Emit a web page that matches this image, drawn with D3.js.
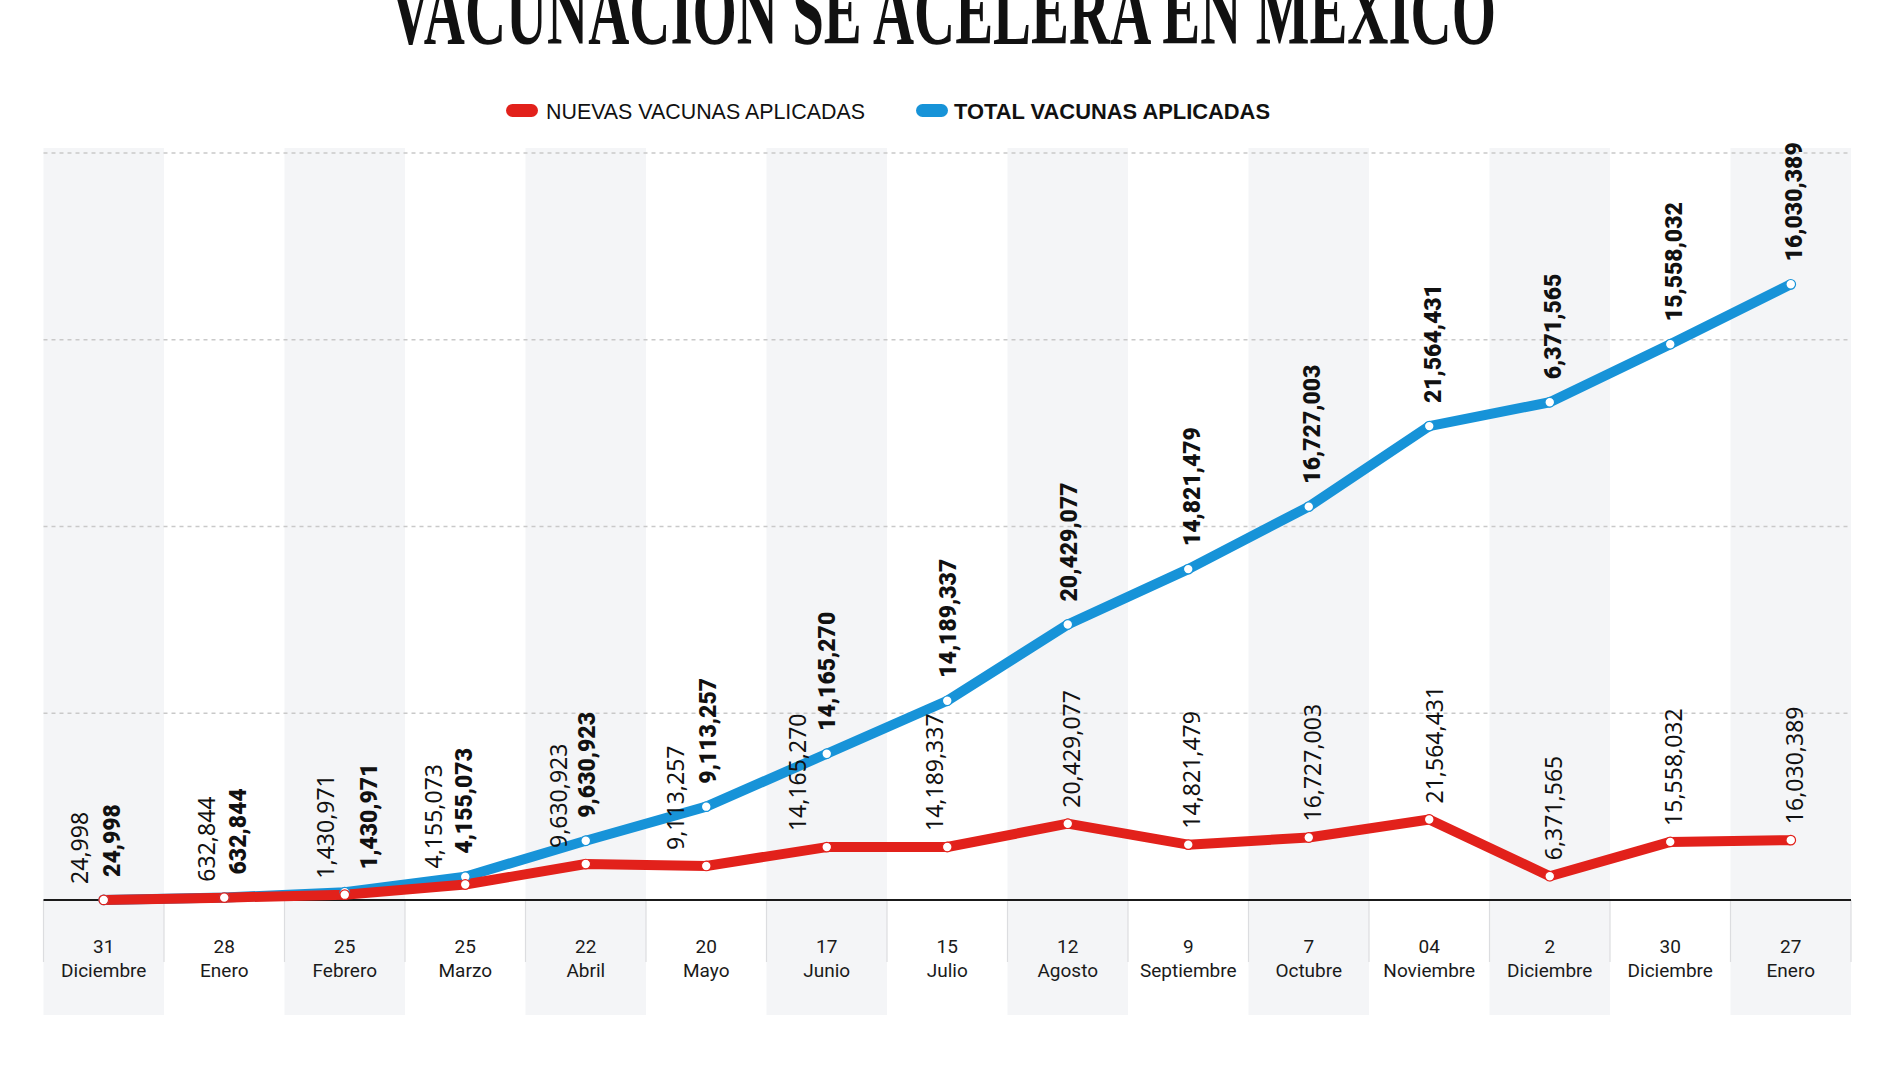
<!DOCTYPE html>
<html>
<head>
<meta charset="utf-8">
<script src="https://cdn.jsdelivr.net/npm/d3@7"></script>
<style>
  body { margin: 0; background: #fff; }
  svg { display: block; }
</style>
</head>
<body>
<svg id="chart" width="1900" height="1068"></svg>
<script>
// ---------- DATA ----------
const days = ["31", "28", "25", "25", "22", "20", "17", "15", "12", "9", "7", "04", "2", "30", "27"];
const months = ["Diciembre", "Enero", "Febrero", "Marzo", "Abril", "Mayo", "Junio", "Julio", "Agosto",
                "Septiembre", "Octubre", "Noviembre", "Diciembre", "Diciembre", "Enero"];
// Nuevas vacunas aplicadas (red line)
const nuevas = [24998, 632844, 1430971, 4155073, 9630923, 9113257, 14165270, 14189337, 20429077,
                14821479, 16727003, 21564431, 6371565, 15558032, 16030389];
// Total vacunas aplicadas (blue line)
const total = [25000, 660000, 2090000, 6240000, 15870000, 24990000, 39150000, 53340000, 73770000,
               88590000, 105320000, 126880000, 133260000, 148810000, 164840000];
// Labels printed above the blue line (as shown in the original)
const totalLabels = ["24,998", "632,844", "1,430,971", "4,155,073", "9,630,923", "9,113,257", "14,165,270",
                     "14,189,337", "20,429,077", "14,821,479", "16,727,003", "21,564,431", "6,371,565",
                     "15,558,032", "16,030,389"];
const gridTicks = [50000000, 100000000, 150000000, 200000000];
const legendItems = ["NUEVAS VACUNAS APLICADAS", "TOTAL VACUNAS APLICADAS"];
const title = "VACUNACIÓN SE ACELERA EN MÉXICO";

// ---------- LAYOUT (label nudges, px) ----------
const regShift = [-24, -18, -19, -32, -27, -31, -29, -13, 4, 3, 4, 5, 4, 3, 4];
const boldShift = [8, 13, 24, -2, 1, 1, 0, 0, 1, 3, 3, 3, 3, 3, 3];

const RED = "#e2211b", BLUE = "#1793d8";

const svg = d3.select("#chart");
const idx = d3.range(days.length);

const x = d3.scaleBand().domain(idx).range([43.5, 1851]).padding(0);
const bw = x.bandwidth();
const cx = i => x(i) + bw / 2;
const y = d3.scaleLinear().domain([0, 200000000]).range([900, 153]);

// Title
svg.append("text")
  .attr("x", 943).attr("y", 44)
  .attr("text-anchor", "middle")
  .attr("font-family", "'Liberation Serif', serif")
  .attr("font-weight", 700)
  .attr("font-size", 96)
  .attr("textLength", 1106)
  .attr("lengthAdjust", "spacingAndGlyphs")
  .attr("fill", "#111")
  .text(title);

// Legend
const legend = svg.append("g");
const legX = [506, 916], legTextX = [546, 954], legLen = [319, 316];
[RED, BLUE].forEach((c, k) => {
  legend.append("rect").attr("x", legX[k]).attr("y", 104).attr("width", 32).attr("height", 13)
    .attr("rx", 6.5).attr("fill", c);
  legend.append("text").attr("x", legTextX[k]).attr("y", 118.5)
    .attr("font-family", "'Liberation Sans Narrow', 'Liberation Sans', Arial, sans-serif")
    .attr("font-size", 22)
    .attr("font-weight", k === 1 ? 700 : 400)
    .attr("textLength", legLen[k]).attr("lengthAdjust", "spacingAndGlyphs")
    .attr("fill", "#111")
    .text(legendItems[k]);
});

// Column bands
svg.append("g").selectAll("rect").data(idx.filter(i => i % 2 === 0)).join("rect")
  .attr("x", i => x(i)).attr("y", 148)
  .attr("width", bw).attr("height", 1015 - 148)
  .attr("fill", "#f4f5f7");

// Separators below baseline
svg.append("g").selectAll("line").data(d3.range(days.length + 1)).join("line")
  .attr("x1", k => 43.5 + k * bw).attr("x2", k => 43.5 + k * bw)
  .attr("y1", 900).attr("y2", 962)
  .attr("stroke", "#dcdde0").attr("stroke-width", 1.2);

// Gridlines
svg.append("g").selectAll("line").data(gridTicks).join("line")
  .attr("x1", 43.5).attr("x2", 1851)
  .attr("y1", d => y(d)).attr("y2", d => y(d))
  .attr("stroke", "#c9c9c9").attr("stroke-width", 1.3)
  .attr("stroke-dasharray", "4,4");

// X axis
const axis = svg.append("g").attr("transform", `translate(0,${y(0)})`)
  .call(d3.axisBottom(x).tickSize(0).tickFormat(""));
axis.select(".domain").remove();
axis.selectAll(".tick text").remove();
axis.selectAll(".tick").append("text")
  .attr("text-anchor", "middle")
  .attr("font-family", "Roboto, sans-serif")
  .attr("font-size", 19)
  .attr("fill", "#1a1a1a")
  .each(function(i) {
    const t = d3.select(this);
    t.append("tspan").attr("x", 0).attr("y", 53).text(days[i]);
    t.append("tspan").attr("x", 0).attr("y", 77).text(months[i]);
  });

// Baseline
svg.append("line")
  .attr("x1", 43.5).attr("x2", 1851).attr("y1", y(0)).attr("y2", y(0))
  .attr("stroke", "#1a1a1a").attr("stroke-width", 2);

// Lines
const line = d3.line().x(i => cx(i));
svg.append("path")
  .attr("d", line.y(i => y(total[i]))(idx))
  .attr("fill", "none").attr("stroke", BLUE).attr("stroke-width", 10)
  .attr("stroke-linejoin", "round");
svg.append("path")
  .attr("d", line.y(i => y(nuevas[i]))(idx))
  .attr("fill", "none").attr("stroke", RED).attr("stroke-width", 10)
  .attr("stroke-linejoin", "round");

// Dots
svg.append("g").selectAll("circle").data(idx).join("circle")
  .attr("cx", cx).attr("cy", i => y(total[i])).attr("r", 4.8)
  .attr("fill", "#fff").attr("stroke", BLUE).attr("stroke-width", 1.2);
svg.append("g").selectAll("circle").data(idx).join("circle")
  .attr("cx", cx).attr("cy", i => y(nuevas[i])).attr("r", 4.8)
  .attr("fill", "#fff").attr("stroke", RED).attr("stroke-width", 1.2);

// Value labels (regular, for red series)
svg.append("g").selectAll("text").data(idx).join("text")
  .attr("transform", i => `translate(${cx(i) + regShift[i]},${y(nuevas[i]) - 16}) rotate(-90)`)
  .attr("dy", "0.36em")
  .attr("font-family", "'Noto Sans', sans-serif")
  .attr("font-weight", 400)
  .attr("font-size", 23)
  .attr("fill", "#111")
  .text(i => d3.format(",")(nuevas[i]));

// Value labels (bold, for blue series)
svg.append("g").selectAll("text").data(idx).join("text")
  .attr("transform", i => `translate(${cx(i) + boldShift[i]},${y(total[i]) - 23}) rotate(-90)`)
  .attr("dy", "0.36em")
  .attr("font-family", "Roboto, sans-serif")
  .attr("font-weight", 900)
  .attr("font-size", 23)
  .attr("fill", "#111")
  .text(i => totalLabels[i]);
</script>
</body>
</html>
